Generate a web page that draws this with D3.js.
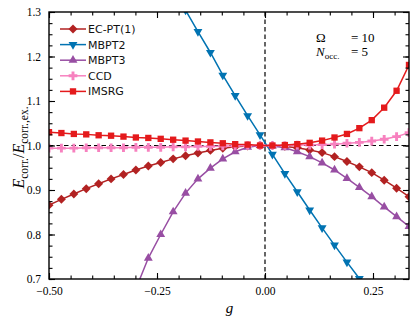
<!DOCTYPE html>
<html>
<head>
<meta charset="utf-8">
<script src="https://cdn.jsdelivr.net/npm/d3@7"></script>
<style>
  body { margin: 0; background: #fff; }
  .tick text { font-family: "Liberation Serif", serif; font-size: 11.5px; }
</style>
</head>
<body>
<div class="chart"></div>
<script>
// ratio of correlation energy to exact correlation energy vs pairing strength g

var svgWidth = 415;
var svgHeight = 322;
var margin = { top: 12, right: 6, bottom: 43, left: 49 };
var width = svgWidth - margin.left - margin.right;
var height = svgHeight - margin.top - margin.bottom;

// 30 couplings between -0.5 and 1/3
var gValues = [-0.5, -0.4713, -0.4425, -0.4138, -0.3851, -0.3563, -0.3276, -0.2989, -0.2701, -0.2414,
  -0.2126, -0.1839, -0.1552, -0.1264, -0.0977, -0.0690, -0.0402, -0.0115, 0.0172, 0.0460,
  0.0747, 0.1034, 0.1322, 0.1609, 0.1897, 0.2184, 0.2471, 0.2759, 0.3046, 0.3333];

var ecpt = [0.866, 0.879, 0.891, 0.903, 0.914, 0.925, 0.935, 0.945, 0.954, 0.962,
  0.970, 0.977, 0.983, 0.989, 0.994, 0.997, 0.999, 1.000, 1.000, 0.998,
  0.995, 0.990, 0.984, 0.975, 0.964, 0.952, 0.939, 0.922, 0.904, 0.885];
var mbpt2 = [1.85, 1.80, 1.75, 1.69, 1.64, 1.59, 1.54, 1.49, 1.445, 1.400,
  1.352, 1.304, 1.256, 1.209, 1.158, 1.112, 1.067, 1.024, 0.980, 0.937,
  0.896, 0.855, 0.815, 0.776, 0.738, 0.701, 0.665, 0.630, 0.596, 0.563];
var mbpt3 = [0.05, 0.15, 0.25, 0.34, 0.43, 0.51, 0.600, 0.678, 0.747, 0.800,
  0.851, 0.893, 0.925, 0.949, 0.970, 0.986, 0.996, 1.000, 0.999, 0.995,
  0.986, 0.975, 0.961, 0.945, 0.926, 0.906, 0.885, 0.862, 0.840, 0.818];
var ccd = [0.994, 0.994, 0.994, 0.995, 0.995, 0.995, 0.995, 0.996, 0.996, 0.996,
  0.997, 0.997, 0.998, 0.998, 0.999, 0.999, 1.000, 1.000, 1.000, 1.000,
  1.001, 1.001, 1.002, 1.003, 1.005, 1.007, 1.010, 1.014, 1.020, 1.029];
var imsrg = [1.030, 1.028, 1.026, 1.025, 1.023, 1.022, 1.020, 1.018, 1.017, 1.015,
  1.013, 1.011, 1.009, 1.007, 1.005, 1.003, 1.002, 1.000, 1.000, 1.001,
  1.003, 1.006, 1.011, 1.018, 1.026, 1.039, 1.057, 1.085, 1.123, 1.181];

var seriesNames = ["EC-PT(1)", "MBPT2", "MBPT3", "CCD", "IMSRG"];
var seriesValues = [ecpt, mbpt2, mbpt3, ccd, imsrg];
var seriesColors = ["#b22222", "#0173b2", "#984ea3", "#f781bf", "#e41a1c"];

var xTicks = [-0.5, -0.25, 0, 0.25];
var xTickLabels = ["\u22120.50", "\u22120.25", "0.00", "0.25"];
var yTicks = [0.7, 0.8, 0.9, 1.0, 1.1, 1.2, 1.3];

// marker shapes
var markerShapes = [
  { type: d3.symbolSquare, size: 40, rotate: 45 },
  { type: d3.symbolTriangle, size: 34, rotate: 180 },
  { type: d3.symbolTriangle, size: 34, rotate: 0 },
  { type: d3.symbolCross, size: 42, rotate: 0 },
  { type: d3.symbolSquare, size: 40, rotate: 0 }
];

var svg = d3.select(".chart")
  .append("svg")
  .attr("width", svgWidth)
  .attr("height", svgHeight)
  .append("g")
  .attr("transform", "translate(" + margin.left + "," + margin.top + ")");

var xScale = d3.scaleLinear().domain([-0.5, 1 / 3]).range([0, width]);
var yScale = d3.scaleLinear().domain([0.7, 1.3]).range([height, 0]);

svg.append("clipPath").attr("id", "clip")
  .append("rect").attr("width", width).attr("height", height);

var plot = svg.append("g").attr("clip-path", "url(#clip)");

// reference dashed lines
plot.append("line")
  .attr("x1", 0).attr("x2", width)
  .attr("y1", yScale(1)).attr("y2", yScale(1))
  .attr("stroke", "#000").attr("stroke-width", 1.2)
  .attr("stroke-dasharray", "4.5,3");
plot.append("line")
  .attr("x1", xScale(0)).attr("x2", xScale(0))
  .attr("y1", 0).attr("y2", height)
  .attr("stroke", "#000").attr("stroke-width", 1.2)
  .attr("stroke-dasharray", "4.5,3");

var line = d3.line()
  .x(function(d, i) { return xScale(gValues[i]); })
  .y(function(d) { return yScale(d); });

seriesValues.forEach(function(vals, s) {
  plot.append("path")
    .datum(vals)
    .attr("d", line)
    .attr("fill", "none")
    .attr("stroke", seriesColors[s])
    .attr("stroke-width", 1.5);

  var sym = d3.symbol().type(markerShapes[s].type).size(markerShapes[s].size);
  plot.selectAll(".m" + s)
    .data(vals)
    .enter().append("path")
    .attr("class", "m" + s)
    .attr("d", sym)
    .attr("fill", seriesColors[s])
    .attr("transform", function(d, i) {
      return "translate(" + xScale(gValues[i]) + "," + yScale(d) + ") rotate(" + markerShapes[s].rotate + ")";
    });
});

// axes with inward ticks on all sides
function minorRange(a, b, step) {
  var out = [];
  for (var v = a; v <= b + 1e-9; v += step) out.push(+v.toFixed(4));
  return out;
}
var xMinor = minorRange(-0.5, 1 / 3, 0.05);
var yMinor = minorRange(0.7, 1.3, 0.025);

var bottomAxis = d3.axisBottom(xScale).tickValues(xTicks)
  .tickFormat(function(d, i) { return xTickLabels[i]; })
  .tickSizeInner(-6).tickSizeOuter(0).tickPadding(8);
var leftAxis = d3.axisLeft(yScale).tickValues(yTicks)
  .tickFormat(d3.format(".1f")).tickSizeInner(-6).tickSizeOuter(0).tickPadding(8);

svg.append("g").attr("transform", "translate(0," + height + ")").call(bottomAxis);
svg.append("g").call(leftAxis);
svg.append("g").attr("transform", "translate(0," + height + ")")
  .call(d3.axisBottom(xScale).tickValues(xMinor).tickFormat("").tickSizeInner(-3.5).tickSizeOuter(0));
svg.append("g")
  .call(d3.axisLeft(yScale).tickValues(yMinor).tickFormat("").tickSizeInner(-3.5).tickSizeOuter(0));
svg.append("g")
  .call(d3.axisTop(xScale).tickValues(xTicks).tickFormat("").tickSizeInner(-6).tickSizeOuter(0));
svg.append("g")
  .call(d3.axisTop(xScale).tickValues(xMinor).tickFormat("").tickSizeInner(-3.5).tickSizeOuter(0));
svg.append("g").attr("transform", "translate(" + width + ",0)")
  .call(d3.axisRight(yScale).tickValues(yTicks).tickFormat("").tickSizeInner(-6).tickSizeOuter(0));
svg.append("g").attr("transform", "translate(" + width + ",0)")
  .call(d3.axisRight(yScale).tickValues(yMinor).tickFormat("").tickSizeInner(-3.5).tickSizeOuter(0));

svg.selectAll(".domain").remove();
svg.selectAll(".tick line").attr("stroke", "#000").attr("stroke-width", 1.1);

svg.append("rect")
  .attr("width", width).attr("height", height)
  .attr("fill", "none").attr("stroke", "#000").attr("stroke-width", 1.4);

// legend
var legend = svg.append("g").attr("transform", "translate(11,17)");
seriesNames.forEach(function(name, s) {
  var row = legend.append("g").attr("transform", "translate(0," + (s * 15.6) + ")");
  row.append("line").attr("x1", 0).attr("x2", 26)
    .attr("stroke", seriesColors[s]).attr("stroke-width", 1.5);
  row.append("path")
    .attr("d", d3.symbol().type(markerShapes[s].type).size(markerShapes[s].size))
    .attr("fill", seriesColors[s])
    .attr("transform", "translate(13,0) rotate(" + markerShapes[s].rotate + ")");
  row.append("text").attr("x", 28).attr("y", 4)
    .attr("font-family", "DejaVu Sans, sans-serif").attr("font-size", "11px")
    .attr("fill", "#111")
    .text(name);
});

// annotation
var ann = svg.append("g").attr("font-family", "Liberation Serif, serif").attr("font-size", "13px");
ann.append("text").attr("x", 267).attr("y", 30).text("\u03A9");
ann.append("text").attr("x", 302).attr("y", 30).text("= 10");
var nText = ann.append("text").attr("x", 267).attr("y", 44);
nText.append("tspan").attr("font-style", "italic").text("N");
nText.append("tspan").attr("font-size", "9px").attr("dy", 2.5).text("occ.");
ann.append("text").attr("x", 302).attr("y", 44).text("= 5");

// axis labels
svg.append("text")
  .attr("x", width / 2 + 0.5).attr("y", height + 34)
  .attr("text-anchor", "middle")
  .attr("font-family", "Liberation Serif, serif").attr("font-size", "15px")
  .attr("font-style", "italic")
  .text("g");

var yl = svg.append("text")
  .attr("transform", "translate(-25," + (height / 2 + 2) + ") rotate(-90)")
  .attr("text-anchor", "middle")
  .attr("font-family", "Liberation Serif, serif").attr("font-size", "16px");
yl.append("tspan").attr("font-style", "italic").text("E");
yl.append("tspan").attr("font-size", "11.5px").attr("dy", 3.5).text("corr.");
yl.append("tspan").attr("dy", -3.5).text("/");
yl.append("tspan").attr("font-style", "italic").text("E");
yl.append("tspan").attr("font-size", "11.5px").attr("dy", 3.5).text("corr.,ex.");
</script>
</body>
</html>
